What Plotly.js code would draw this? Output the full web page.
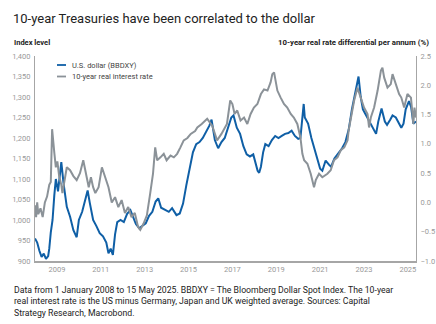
<!DOCTYPE html>
<html><head><meta charset="utf-8">
<script src="https://cdn.plot.ly/plotly-3.0.1.min.js"></script>
<style>html,body{margin:0;padding:0;background:#fff}#chart{width:436px;height:324px}</style>
</head><body><div id="chart"></div>
<script>
// U.S. dollar (BBDXY), left axis, decimal years
const usdYears = [
 2008.0,2008.1,2008.2,2008.3,2008.4,2008.5,2008.6,2008.65,2008.72,2008.8,
 2008.88,2008.95,2009.05,2009.15,2009.2,2009.3,2009.45,2009.6,2009.75,2009.9,
 2010.0,2010.15,2010.3,2010.4,2010.5,2010.65,2010.8,2010.95,2011.1,2011.25,
 2011.35,2011.45,2011.55,2011.65,2011.75,2011.9,2012.05,2012.2,2012.35,2012.45,
 2012.6,2012.75,2012.9,2013.05,2013.2,2013.35,2013.5,2013.62,2013.75,2013.95,
 2014.1,2014.25,2014.45,2014.6,2014.75,2014.9,2015.05,2015.2,2015.35,2015.5,
 2015.65,2015.8,2015.95,2016.05,2016.2,2016.35,2016.5,2016.65,2016.8,2016.95,
 2017.05,2017.2,2017.35,2017.5,2017.65,2017.8,2017.95,2018.05,2018.15,2018.22,
 2018.3,2018.4,2018.5,2018.65,2018.8,2018.95,2019.1,2019.25,2019.4,2019.55,
 2019.7,2019.85,2020.0,2020.1,2020.2,2020.25,2020.3,2020.45,2020.6,2020.75,
 2020.9,2021.0,2021.1,2021.25,2021.4,2021.5,2021.65,2021.85,2022.0,2022.15,
 2022.3,2022.45,2022.6,2022.75,2022.85,2022.95,2023.1,2023.25,2023.4,2023.55,
 2023.65,2023.8,2023.95,2024.05,2024.2,2024.3,2024.45,2024.55,2024.7,2024.8,
 2024.9,2025.05,2025.15,2025.25,2025.37];
const usdValues = [
 955,945,925,910,918,905,912,930,970,1000,
 1060,1100,1070,1110,1141,1090,1032,1008,975,958,
 1000,1020,1050,1072,1041,1000,985,968,960,945,
 919,930,915,965,995,1000,995,1015,1024,1010,
 990,980,985,992,1010,1020,1045,1053,1030,1024,
 1020,1029,1012,1016,1040,1085,1125,1165,1185,1190,
 1200,1215,1230,1245,1195,1175,1190,1200,1225,1250,
 1255,1225,1210,1180,1160,1155,1160,1140,1120,1115,
 1130,1165,1185,1180,1195,1205,1200,1205,1210,1212,
 1218,1205,1198,1200,1260,1283,1250,1235,1200,1170,
 1145,1125,1120,1145,1135,1130,1150,1165,1175,1190,
 1220,1270,1310,1350,1300,1270,1255,1240,1225,1210,
 1240,1272,1240,1232,1245,1255,1250,1240,1225,1235,
 1270,1290,1275,1235,1240];

// 10-year real interest rate differential (%), right axis
const rateYears = [
 2008.0,2008.05,2008.1,2008.15,2008.25,2008.35,2008.45,2008.55,2008.65,2008.72,
 2008.78,2008.82,2008.88,2008.95,2009.02,2009.1,2009.2,2009.25,2009.35,2009.45,
 2009.6,2009.75,2009.9,2010.05,2010.2,2010.3,2010.45,2010.55,2010.65,2010.75,
 2010.9,2011.05,2011.2,2011.35,2011.5,2011.65,2011.8,2011.95,2012.1,2012.25,
 2012.4,2012.55,2012.7,2012.8,2012.95,2013.1,2013.25,2013.38,2013.48,2013.57,
 2013.72,2013.87,2014.0,2014.18,2014.33,2014.48,2014.63,2014.78,2014.95,2015.1,
 2015.3,2015.4,2015.6,2015.85,2016.0,2016.08,2016.3,2016.5,2016.75,2016.9,
 2017.0,2017.1,2017.22,2017.37,2017.53,2017.68,2017.83,2017.98,2018.14,2018.3,
 2018.44,2018.6,2018.74,2018.82,2018.9,2018.97,2019.05,2019.2,2019.35,2019.5,
 2019.66,2019.8,2019.96,2020.1,2020.19,2020.27,2020.42,2020.57,2020.72,2020.8,
 2020.95,2021.1,2021.33,2021.48,2021.63,2021.79,2021.94,2022.1,2022.25,2022.3,
 2022.4,2022.55,2022.7,2022.85,2023.0,2023.16,2023.23,2023.31,2023.46,2023.62,
 2023.77,2023.84,2023.92,2024.07,2024.22,2024.3,2024.45,2024.6,2024.7,2024.83,
 2024.98,2025.14,2025.25,2025.3,2025.37];
const rateValues = [
 -0.05,-0.25,0.0,-0.2,-0.1,-0.25,0.0,0.1,0.3,0.35,
 1.25,1.05,0.85,0.6,0.7,0.45,0.3,0.16,0.38,0.6,
 0.55,0.45,0.38,0.5,0.72,0.55,0.26,0.43,0.26,0.16,
 0.26,0.6,0.43,0.26,0.0,0.09,-0.08,0.04,-0.18,-0.08,
 -0.25,-0.18,-0.42,-0.47,-0.36,-0.22,0.15,0.49,0.94,0.72,
 0.77,0.83,0.72,0.8,0.77,0.83,0.94,1.06,1.1,1.17,
 1.22,1.28,1.34,1.43,1.35,1.31,1.06,1.17,1.34,1.74,
 1.68,1.51,1.57,1.4,1.45,1.34,1.51,1.62,1.68,1.85,
 1.93,1.91,2.05,2.19,2.22,2.07,1.91,1.79,1.68,1.62,
 1.51,1.45,1.34,1.11,0.83,0.72,0.66,0.49,0.26,0.38,
 0.49,0.43,0.49,0.55,0.72,0.77,0.89,0.94,1.06,1.23,
 1.45,1.74,1.96,1.79,1.62,1.51,1.28,1.45,1.62,1.91,
 2.25,2.30,2.13,1.96,2.02,2.19,2.02,1.85,1.79,1.62,
 1.85,1.79,1.34,1.62,1.45];

const yearTicks = [2009,2011,2013,2015,2017,2019,2021,2023,2025];
const yearLabels = yearTicks.map(String);
const seriesNames = ['U.S. dollar (BBDXY)', '10-year real interest rate'];

const W = 436, H = 324;
const M = {l: 35, r: 20, t: 56, b: 63};
const PW = W - M.l - M.r, PH = H - M.t - M.b;
const px = x => (x - M.l) / PW;
const py = y => (H - M.b - y) / PH;

const BLUE = '#0f5fa6', GREY = '#8b9298';
const FONT = 'Roboto, "Liberation Sans", Arial, sans-serif';

const traces = [
 {x: rateYears, y: rateValues, yaxis: 'y2', type: 'scatter', mode: 'lines',
  name: seriesNames[1], line: {color: GREY, width: 2}, showlegend: false},
 {x: usdYears, y: usdValues, type: 'scatter', mode: 'lines',
  name: seriesNames[0], line: {color: BLUE, width: 2}, showlegend: false}
];

const tickFont = {family: FONT, size: 7.5, color: '#999999'};
const layout = {
 width: W, height: H, margin: M,
 paper_bgcolor: '#fff', plot_bgcolor: '#fff',
 font: {family: FONT},
 title: {text: '10-year Treasuries have been correlated to the dollar',
   x: 13 / W, xanchor: 'left', xref: 'container',
   y: 1 - 18 / H, yanchor: 'middle', yref: 'container',
   font: {family: FONT, size: 13, color: '#222'}},
 xaxis: {range: [2008.0, 2025.37], tickvals: yearTicks, ticktext: yearLabels,
   showgrid: false, zeroline: false, showline: true, linecolor: '#a6a6a6', linewidth: 2,
   ticks: '', tickfont: tickFont, fixedrange: true},
 yaxis: {range: [900, 1400], dtick: 50, tickformat: ',d', showgrid: false, zeroline: false,
   showline: true, linecolor: '#a6a6a6', linewidth: 1, ticks: '', tickfont: tickFont,
   ticklabelstandoff: 2},
 yaxis2: {range: [-1, 2.5], dtick: 0.5, tickformat: '.1f', overlaying: 'y', side: 'right',
   showgrid: false, zeroline: false, showline: true, linecolor: '#a6a6a6', linewidth: 1,
   ticks: '', tickfont: tickFont, ticklabelstandoff: 2},
 showlegend: false,
 shapes: [
  {type: 'line', xref: 'paper', yref: 'paper', x0: px(57), x1: px(66), y0: py(65), y1: py(65),
   line: {color: BLUE, width: 1.8}},
  {type: 'line', xref: 'paper', yref: 'paper', x0: px(57), x1: px(66), y0: py(76.5), y1: py(76.5),
   line: {color: GREY, width: 1.8}}
 ],
 annotations: [
  {text: seriesNames[0], xref: 'paper', yref: 'paper', x: px(70), y: py(65), xanchor: 'left', yanchor: 'middle',
   showarrow: false, font: {family: FONT, size: 7.5, color: '#444'}},
  {text: seriesNames[1], xref: 'paper', yref: 'paper', x: px(70), y: py(76.5), xanchor: 'left', yanchor: 'middle',
   showarrow: false, font: {family: FONT, size: 7.5, color: '#444'}},
  {text: '<b>Index level</b>', xref: 'paper', yref: 'paper', x: px(12), y: py(43), xanchor: 'left', yanchor: 'middle',
   showarrow: false, font: {family: FONT, size: 7.5, color: '#222'}},
  {text: '<b>10-year real rate differential per annum (%)</b>', xref: 'paper', yref: 'paper', x: px(431), y: py(43),
   xanchor: 'right', yanchor: 'middle', showarrow: false, font: {family: FONT, size: 7.8, color: '#222'}},
  {text: 'Data from 1 January 2008 to 15 May 2025. BBDXY = The Bloomberg Dollar Spot Index. The 10-year<br>real interest rate is the US minus Germany, Japan and UK weighted average. Sources: Capital<br>Strategy Research, Macrobond.',
   xref: 'paper', yref: 'paper', x: px(12), y: py(283), xanchor: 'left', yanchor: 'top', align: 'left',
   showarrow: false, font: {family: FONT, size: 8.7, color: '#222'}}
 ]
};
Plotly.newPlot('chart', traces, layout, {displayModeBar: false, staticPlot: true});
</script></body></html>
